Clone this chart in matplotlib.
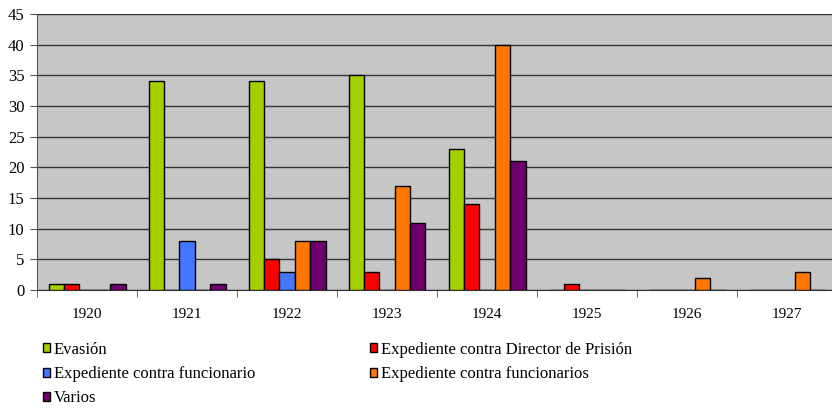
import numpy as np
import matplotlib
matplotlib.use("Agg")
import matplotlib.pyplot as plt
from matplotlib.patches import Patch

years = ["1920", "1921", "1922", "1923", "1924", "1925", "1926", "1927"]
evasion = [1, 34, 34, 35, 23, 0, 0, 0]
exp_director = [1, 0, 5, 3, 14, 1, 0, 0]
exp_funcionario = [0, 8, 3, 0, 0, 0, 0, 0]
exp_funcionarios = [0, 0, 8, 17, 40, 0, 2, 3]
varios = [1, 1, 8, 11, 21, 0, 0, 0]

series = [
    ("Evasión", evasion, "#a4d000"),
    ("Expediente contra Director de Prisión", exp_director, "#ff0000"),
    ("Expediente contra funcionario", exp_funcionario, "#4477ff"),
    ("Expediente contra funcionarios", exp_funcionarios, "#ff7700"),
    ("Varios", varios, "#6e006e"),
]

plt.rcParams["font.family"] = ["Liberation Serif", "DejaVu Serif"]

fig = plt.figure(figsize=(8.32, 4.08), dpi=100)
ax = fig.add_axes([37 / 832, 118 / 408, 800 / 832, 276 / 408])
ax.set_facecolor("#c6c6c6")

x = np.arange(len(years))
w = 0.154
handles = []
for i, (name, vals, col) in enumerate(series):
    ax.bar(x + (i - 2) * w, vals, width=w, color=col, edgecolor="black",
           linewidth=1.0, zorder=3)
    handles.append(Patch(facecolor=col, edgecolor="black", linewidth=1.0, label=name))

ax.set_xlim(-0.5, len(years) - 0.5)
ax.set_ylim(0, 45)
ax.set_yticks(range(0, 46, 5))
ax.yaxis.grid(True, color="#333333", linewidth=1.0, zorder=1)
ax.tick_params(axis="y", labelsize=12, length=5, color="#555555", pad=4)

ax.set_xticks(x)
ax.set_xticklabels(years)
ax.set_xticks(np.arange(-0.5, len(years), 1), minor=True)
ax.tick_params(axis="x", which="major", length=0, labelsize=11, pad=13)
ax.tick_params(axis="x", which="minor", length=5, color="#555555")

for s in ["top", "right"]:
    ax.spines[s].set_visible(False)
ax.spines["left"].set_color("#555555")
ax.spines["bottom"].set_color("#333333")

# row-wise order in a two-column legend
order = [0, 2, 4, 1, 3]
fig.legend([handles[i] for i in order], [series[i][0] for i in order],
           loc="upper left", bbox_to_anchor=(36 / 832, 1 - 335 / 408),
           ncol=2, frameon=False, fontsize=12, handlelength=0.45,
           handleheight=0.45, handletextpad=0.2, columnspacing=6.9,
           labelspacing=0.5, borderaxespad=0)

fig.savefig("out.png", dpi=100)
